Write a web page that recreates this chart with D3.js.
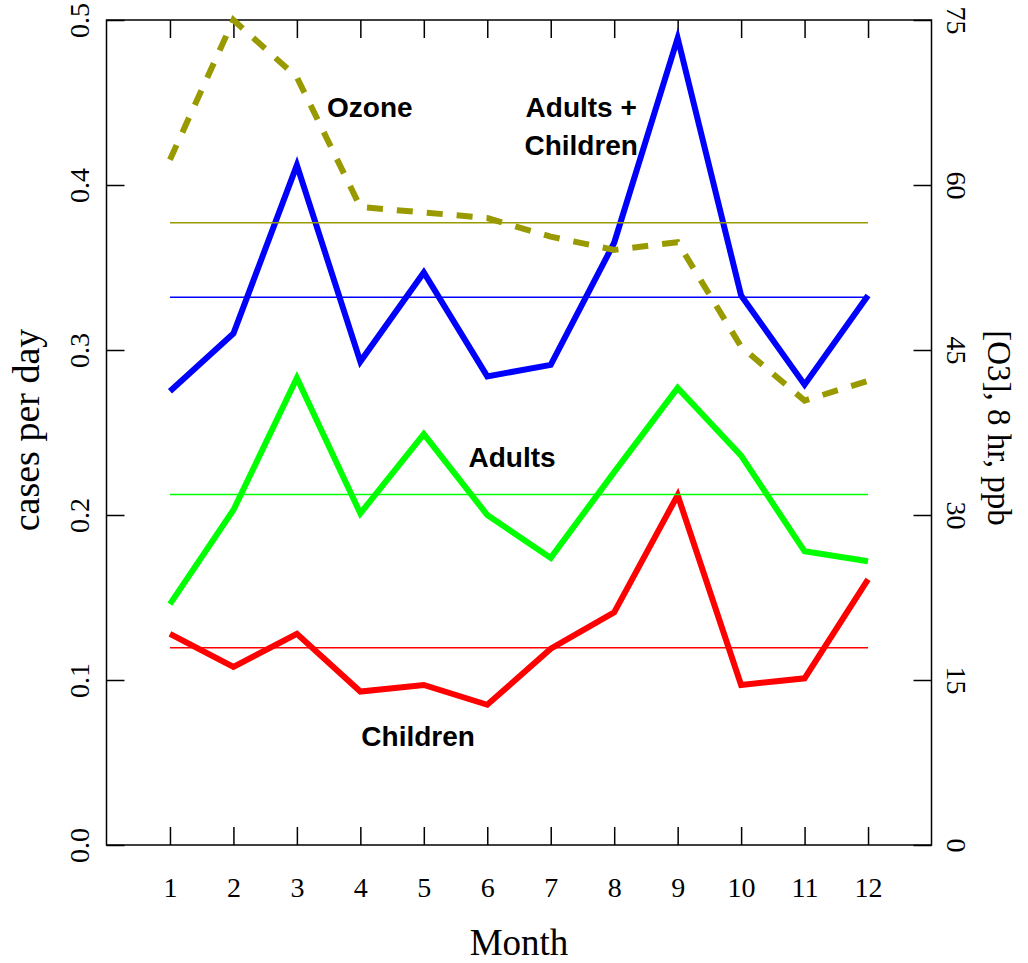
<!DOCTYPE html>
<html>
<head>
<meta charset="utf-8">
<script src="https://cdn.jsdelivr.net/npm/d3@7"></script>
<style>
	body { margin: 0; background: #fff; }
	svg { display: block; }
	.tick text { font-family: "Liberation Serif", "Times New Roman", serif; font-size: 28px; fill: #000; }
	.tick line { stroke: #000; stroke-width: 1.5; }
	.note { font-family: "Liberation Sans", Arial, Helvetica, sans-serif; font-weight: bold; font-size: 28px; fill: #000; }
	.title { font-family: "Liberation Serif", "Times New Roman", serif; fill: #000; }
</style>
</head>
<body>
<div id="chart"><svg></svg></div>
<script>

var WIDTH = 1028;
var HEIGHT = 963;

var months = [1, 2, 3, 4, 5, 6, 7, 8, 9, 10, 11, 12];

// cases per day
var total    = [0.275, 0.310, 0.412, 0.293, 0.347, 0.284, 0.291, 0.365, 0.489, 0.333, 0.279, 0.333];
var adults   = [0.146, 0.203, 0.283, 0.201, 0.249, 0.200, 0.174, 0.226, 0.277, 0.236, 0.178, 0.172];
var children = [0.128, 0.108, 0.128, 0.093, 0.097, 0.085, 0.119, 0.141, 0.212, 0.097, 0.101, 0.161];

// [O3], 8 hr, ppb
var ozone = [62.3, 75.0, 69.8, 58.0, 57.5, 57.0, 55.3, 54.1, 54.8, 45.3, 40.4, 42.2];

// yearly averages, drawn as thin lines
var meanNames  = ['total', 'adults', 'children', 'ozone'];
var meanValues = [0.332, 0.2125, 0.1196, 56.57];

var leftTicks  = [0, 0.1, 0.2, 0.3, 0.4, 0.5];
var rightTicks = [0, 15, 30, 45, 60, 75];

var labelText  = ['Ozone', 'Adults +', 'Children', 'Adults', 'Children'];
var labelMonth = [4.15, 7.48, 7.48, 6.39, 4.91];
var labelValue = [0.441, 0.441, 0.418, 0.229, 0.060];

var box = {left: 106.5, right: 931.5, top: 20, bottom: 845};

var svg = d3.select('#chart').select('svg')
	.attr('width', WIDTH)
	.attr('height', HEIGHT);

var x = d3.scaleLinear().domain([0, 13]).range([box.left, box.right]);
var y = d3.scaleLinear().domain([0, 0.5]).range([box.bottom, box.top]);
var y2 = d3.scaleLinear().domain([0, 75]).range([box.bottom, box.top]);

function series(values) {
	return months.map(function(m, i) { return {month: m, value: values[i]}; });
}

function drawLine(values, scale, color, dashed) {
	var line = d3.line()
		.x(function(d) { return x(d.month); })
		.y(function(d) { return scale(d.value); });

	var p = svg.append('path')
		.datum(series(values))
		.attr('d', line)
		.attr('fill', 'none')
		.attr('stroke', color)
		.attr('stroke-width', 6)
		.attr('stroke-linejoin', 'miter')
		.attr('stroke-miterlimit', 10)
		.attr('stroke-linecap', 'butt');
	if (dashed) p.attr('stroke-dasharray', '16,14');
	return p;
}

function drawMean(value, scale, color) {
	svg.append('line')
		.attr('x1', x(months[0]))
		.attr('x2', x(months[months.length-1]))
		.attr('y1', scale(value))
		.attr('y2', scale(value))
		.attr('stroke', color)
		.attr('stroke-width', 1.5);
}

// axes, ticks point inward
var bottom = svg.append('g')
	.attr('transform', 'translate(0,' + box.bottom + ')')
	.call(d3.axisBottom(x).tickValues(months).tickSizeInner(-18).tickSizeOuter(0));
bottom.selectAll('.tick text').attr('y', 52).attr('dy', 0);

svg.append('g')
	.attr('transform', 'translate(0,' + box.top + ')')
	.call(d3.axisTop(x).tickValues(months).tickSizeInner(-18).tickSizeOuter(0).tickFormat(''));

var left = svg.append('g')
	.attr('transform', 'translate(' + box.left + ',0)')
	.call(d3.axisLeft(y).tickValues(leftTicks).tickSizeInner(-18).tickSizeOuter(0).tickFormat(d3.format('.1f')));
left.selectAll('.tick text')
	.attr('x', 0).attr('dy', 0)
	.attr('text-anchor', 'middle')
	.attr('transform', 'translate(-18,0) rotate(-90)');

var right = svg.append('g')
	.attr('transform', 'translate(' + box.right + ',0)')
	.call(d3.axisRight(y2).tickValues(rightTicks).tickSizeInner(-18).tickSizeOuter(0));
right.selectAll('.tick text')
	.attr('x', 0).attr('dy', 0)
	.attr('text-anchor', 'middle')
	.attr('transform', 'translate(15,0) rotate(90)');

svg.selectAll('.domain').remove();
svg.selectAll('g').attr('font-family', null).attr('font-size', null);

svg.append('rect')
	.attr('x', box.left)
	.attr('y', box.top)
	.attr('width', box.right - box.left)
	.attr('height', box.bottom - box.top)
	.attr('fill', 'none')
	.attr('stroke', '#000')
	.attr('stroke-width', 1.5);

// axis titles
svg.append('text')
	.attr('class', 'title')
	.attr('x', (box.left + box.right)/2)
	.attr('y', 955)
	.attr('text-anchor', 'middle')
	.style('font-size', '37px')
	.text('Month');

svg.append('text')
	.attr('class', 'title')
	.attr('text-anchor', 'middle')
	.attr('transform', 'translate(38.5,' + 430 + ') rotate(-90)')
	.style('font-size', '38px')
	.text('cases per day');

svg.append('text')
	.attr('class', 'title')
	.attr('text-anchor', 'middle')
	.attr('transform', 'translate(988,' + 428 + ') rotate(90)')
	.style('font-size', '33px')
	.text('[O3], 8 hr, ppb');

// data
drawLine(total, y, '#0000ff');
drawLine(adults, y, '#00ff00');
drawLine(children, y, '#ff0000');

drawMean(meanValues[meanNames.indexOf('total')], y, '#0000ff');
drawMean(meanValues[meanNames.indexOf('adults')], y, '#00ff00');
drawMean(meanValues[meanNames.indexOf('children')], y, '#ff0000');

drawLine(ozone, y2, '#999900', true);
drawMean(meanValues[meanNames.indexOf('ozone')], y2, '#999900');

// labels
svg.selectAll('.note')
	.data(labelText)
	.enter().append('text')
	.attr('class', 'note')
	.attr('text-anchor', 'middle')
	.attr('x', function(d, i) { return x(labelMonth[i]); })
	.attr('y', function(d, i) { return y(labelValue[i]); })
	.text(function(d) { return d; });

</script>
</body>
</html>
